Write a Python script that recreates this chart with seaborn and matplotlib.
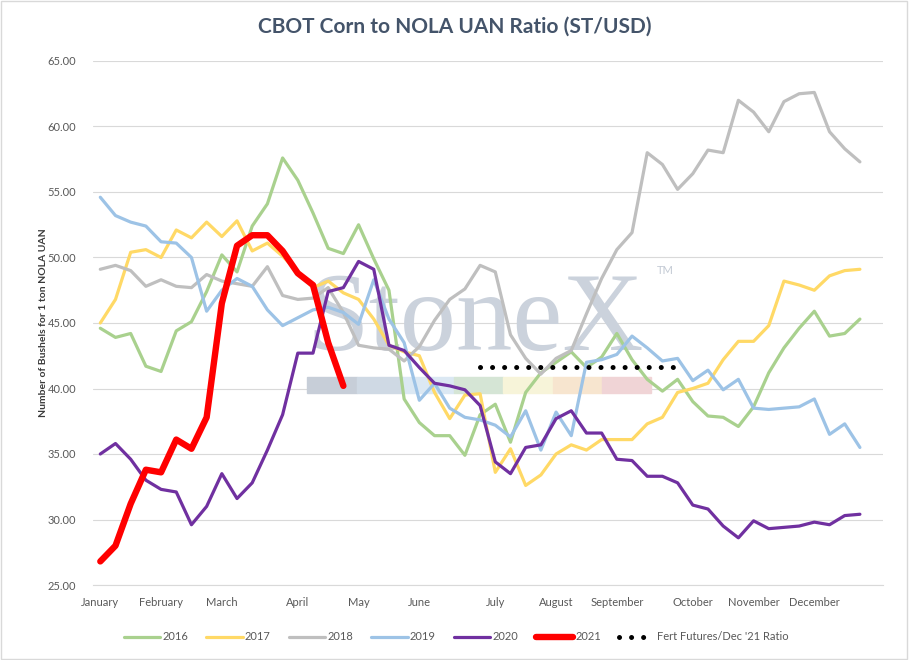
import numpy as np
import pandas as pd
import seaborn as sns
import matplotlib.pyplot as plt
from matplotlib.patches import Rectangle

# weekly ratio values (52 weekly slots, data for the first 51)
months = ['January', 'February', 'March', 'April', 'May', 'June', 'July',
          'August', 'September', 'October', 'November', 'December']
weeks_per_month = [4, 4, 5, 4, 4, 5, 4, 4, 5, 4, 4, 5]

y2016 = [44.6, 43.9, 44.2, 41.7, 41.3, 44.4, 45.1, 47.4, 50.2, 48.9, 52.4, 54.1, 57.6,
         55.9, 53.4, 50.7, 50.3, 52.5, 49.9, 47.5, 39.2, 37.4, 36.4, 36.4, 34.9, 38.0,
         38.8, 35.9, 39.7, 41.2, 42.0, 42.8, 41.6, 42.4, 44.2, 42.2, 40.7, 39.8, 40.7,
         39.0, 37.9, 37.8, 37.1, 38.6, 41.2, 43.1, 44.6, 45.9, 44.0, 44.2, 45.3]
y2017 = [45.0, 46.8, 50.4, 50.6, 50.0, 52.1, 51.5, 52.7, 51.6, 52.8, 50.5, 51.1, 50.1,
         48.9, 47.7, 48.2, 47.3, 46.8, 45.3, 43.3, 42.8, 42.5, 39.7, 37.7, 39.5, 39.6,
         33.6, 35.4, 32.6, 33.4, 35.0, 35.7, 35.3, 36.1, 36.1, 36.1, 37.3, 37.8, 39.7,
         40.0, 40.4, 42.2, 43.6, 43.6, 44.8, 48.2, 47.9, 47.5, 48.6, 49.0, 49.1]
y2018 = [49.1, 49.4, 49.0, 47.8, 48.3, 47.8, 47.7, 48.7, 48.2, 48.0, 47.8, 49.3, 47.1,
         46.8, 46.9, 47.7, 45.8, 43.3, 43.1, 43.0, 42.1, 43.2, 45.2, 46.8, 47.6, 49.4,
         48.9, 44.1, 42.3, 41.1, 42.3, 42.9, 45.7, 48.4, 50.6, 51.9, 58.0, 57.1, 55.2,
         56.4, 58.2, 58.0, 62.0, 61.1, 59.6, 61.9, 62.5, 62.6, 59.6, 58.3, 57.3]
y2019 = [54.6, 53.2, 52.7, 52.4, 51.2, 51.1, 50.0, 45.9, 47.5, 48.4, 47.8, 46.0, 44.8,
         45.4, 46.0, 46.2, 45.8, 44.9, 48.3, 45.3, 43.5, 39.1, 40.4, 38.5, 37.8, 37.6,
         37.2, 36.3, 38.3, 35.3, 38.2, 36.4, 42.0, 42.2, 42.6, 44.0, 43.1, 42.1, 42.3,
         40.6, 41.4, 39.9, 40.7, 38.5, 38.4, 38.5, 38.6, 39.2, 36.5, 37.3, 35.5]
y2020 = [35.0, 35.8, 34.6, 33.0, 32.3, 32.1, 29.6, 31.0, 33.5, 31.6, 32.8, 35.3, 38.0,
         42.7, 42.7, 47.4, 47.7, 49.7, 49.1, 43.3, 42.9, 41.6, 40.4, 40.2, 39.9, 38.7,
         34.4, 33.5, 35.5, 35.7, 37.7, 38.3, 36.6, 36.6, 34.6, 34.5, 33.3, 33.3, 32.8,
         31.1, 30.8, 29.5, 28.6, 29.9, 29.3, 29.4, 29.5, 29.8, 29.6, 30.3, 30.4]
y2021 = [26.8, 28.0, 31.2, 33.8, 33.6, 36.1, 35.4, 37.8, 46.5, 50.9, 51.7, 51.7, 50.5,
         48.8, 47.9, 43.5, 40.2]
fert_weeks = list(range(25, 39))
fert_ratio = [41.65] * len(fert_weeks)

series = {'2016': y2016, '2017': y2017, '2018': y2018,
          '2019': y2019, '2020': y2020, '2021': y2021}
colors = {'2016': '#a9d18e', '2017': '#ffd966', '2018': '#bfbfbf',
          '2019': '#9dc3e6', '2020': '#7030a0', '2021': '#ff0000'}
widths = {'2016': 2.3, '2017': 2.3, '2018': 2.3, '2019': 2.3, '2020': 2.3, '2021': 4.6}

sns.set_style('white')
plt.rcParams['font.family'] = ['Lato', 'DejaVu Sans']

fig = plt.figure(figsize=(9.09, 6.6), dpi=100)
ax = fig.add_axes([92.7 / 909, 1 - 585 / 660, 790 / 909, 524 / 660])

# StoneX watermark behind the lines
ax.text(307 / 909, 1 - 350 / 660, 'StoneX', transform=fig.transFigure,
        family='Liberation Serif', fontsize=81, color='#cbd2dc', ha='left',
        va='baseline', zorder=1, clip_on=False)
ax.text(657 / 909, 1 - 271 / 660, 'TM', transform=fig.transFigure,
        fontsize=8, color='#c3cad4', ha='left', va='center', zorder=1)
band_edges = [307, 357, 403, 454, 503, 553, 602, 651]
band_colors = ['#c7ced8', '#cfd9e4', '#dbe8f3', '#d5e5d5', '#f7f4d9', '#f7e5cf', '#f0d4d6']
for x0, x1, c in zip(band_edges[:-1], band_edges[1:], band_colors):
    ax.add_patch(Rectangle((x0 / 909, 1 - 392.7 / 660), (x1 - x0) / 909, 16 / 660,
                           transform=fig.transFigure, color=c, zorder=1, clip_on=False))

for name, vals in series.items():
    df = pd.DataFrame({'week': np.arange(len(vals)), 'ratio': vals})
    sns.lineplot(data=df, x='week', y='ratio', ax=ax, color=colors[name],
                 linewidth=widths[name], label=name, zorder=3 if name == '2021' else 2)

df_fert = pd.DataFrame({'week': fert_weeks, 'ratio': fert_ratio})
sns.lineplot(data=df_fert, x='week', y='ratio', ax=ax, color='black', linewidth=3.6,
             linestyle=(0, (0.01, 2.4)), dash_capstyle='round',
             label="Fert Futures/Dec '21 Ratio", zorder=4)

n_weeks = sum(weeks_per_month)
month_starts = np.concatenate([[0], np.cumsum(weeks_per_month)[:-1]])
ax.set_xlim(-0.5, n_weeks - 0.5)
ax.set_ylim(25, 65)
ax.set_yticks(np.arange(25, 66, 5))
ax.set_yticklabels([f'{v:.2f}' for v in np.arange(25, 66, 5)])
ax.set_xticks(month_starts)
ax.set_xticklabels(months)
ax.set_xticks(np.arange(-0.5, n_weeks, 1), minor=True)
ax.tick_params(axis='x', which='major', length=0, pad=9, labelsize=8, labelcolor='#595959')
ax.tick_params(axis='x', which='minor', length=5, color='#d9d9d9', width=0.8, direction='out')
ax.tick_params(axis='y', length=0, pad=12, labelsize=8, labelcolor='#595959')

ax.grid(axis='y', color='#d9d9d9', linewidth=0.8)
ax.set_axisbelow(True)
for side in ['top', 'right', 'left']:
    ax.spines[side].set_visible(False)
ax.spines['bottom'].set_color('#d9d9d9')
ax.spines['bottom'].set_linewidth(0.8)

ax.set_xlabel('')
ax.set_ylabel('Number of Bushels for 1 ton NOLA UAN', fontsize=7.5,
              fontweight='bold', color='#3a3a3a')
ax.yaxis.set_label_coords(-0.057, 0.5)

fig.text(0.5, 1 - 27 / 660, 'CBOT Corn to NOLA UAN Ratio (ST/USD)', ha='center',
         va='center', fontsize=15, fontweight='bold', color='#44546a')

handles, labels = ax.get_legend_handles_labels()
ax.get_legend().remove()
fig.legend(handles, labels, loc='center', bbox_to_anchor=(0.502, 1 - 637 / 660),
           ncol=7, frameon=False, fontsize=8, labelcolor='#595959',
           handlelength=3.3, handletextpad=0.2, columnspacing=1.6)

fig.add_artist(Rectangle((0.001, 0.001), 0.997, 0.997, transform=fig.transFigure,
                         fill=False, edgecolor='#d9d9d9', linewidth=1))

fig.savefig('out.png', dpi=100)
